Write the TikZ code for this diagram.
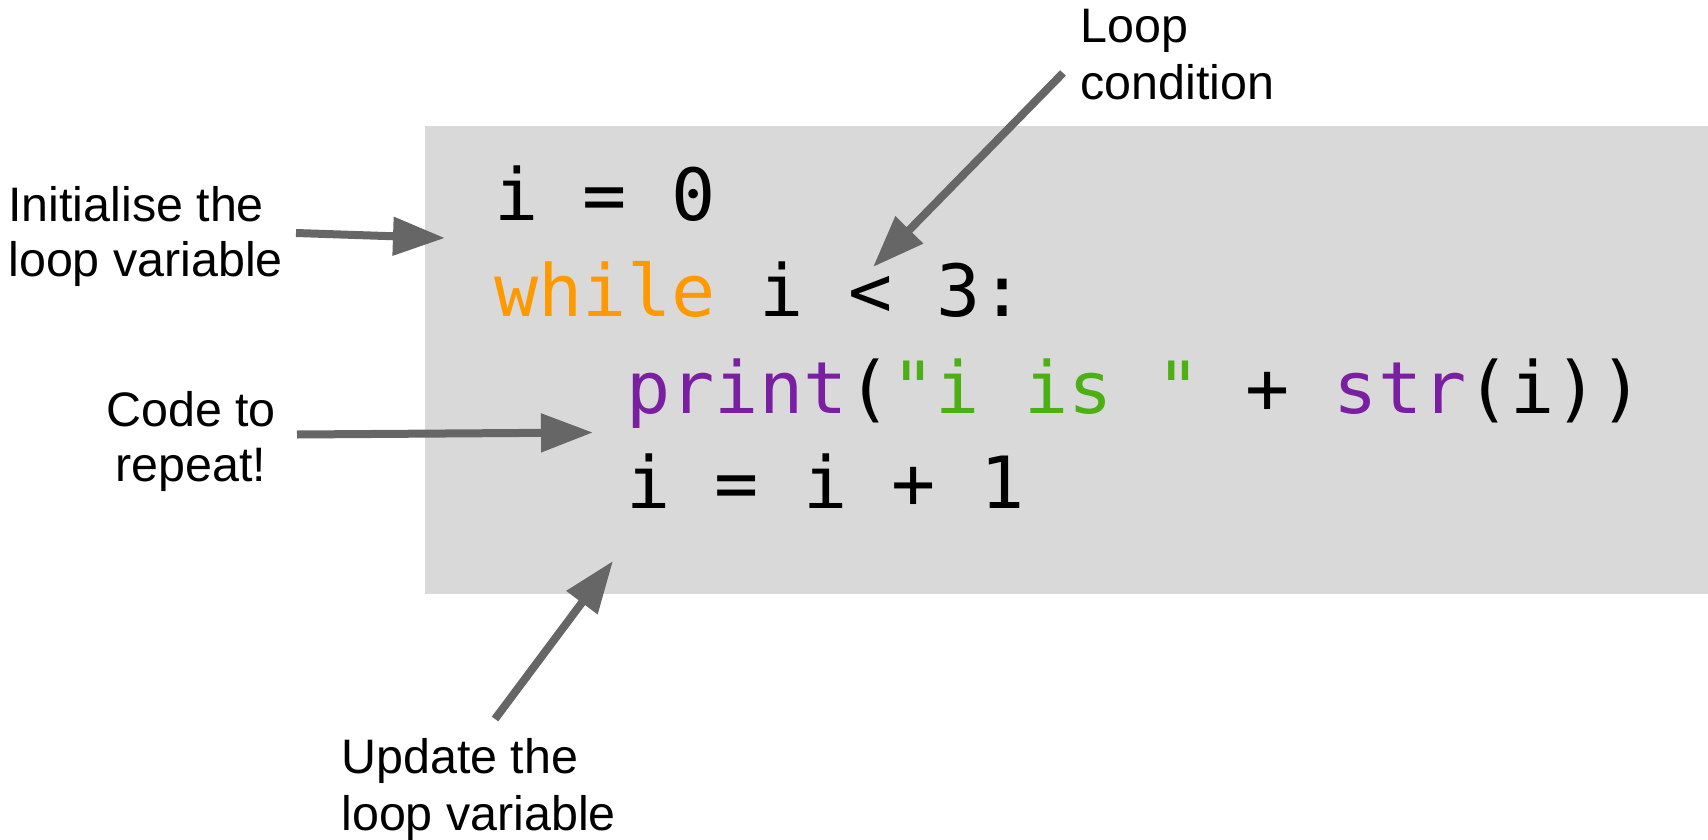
\documentclass[tikz,border=0pt]{standalone}
\usepackage{fontspec}
\setmainfont{Liberation Sans}
\newfontfamily\codefont[FakeStretch=1.02]{DejaVu Sans Mono}
\usetikzlibrary{arrows.meta}
\definecolor{boxgray}{HTML}{D9D9D9}
\definecolor{arrowgray}{HTML}{666666}
\definecolor{kworange}{HTML}{FF9900}
\definecolor{fnpurple}{HTML}{7B1FA2}
\definecolor{strgreen}{HTML}{4CAF14}
\tikzset{
  codeline/.style={anchor=base west, inner sep=0pt, font=\codefont\fontsize{36pt}{48pt}\selectfont\frenchspacing},
  notetext/.style={inner sep=0pt, font=\fontsize{24.2pt}{#1}\selectfont},
  notetext/.default=28pt,
  arrowline/.style={draw=arrowgray, line width=4pt, -{Triangle[length=26pt,width=18.5pt]}}
}
\begin{document}
\begin{tikzpicture}[x=0.5pt,y=-0.5pt]
\useasboundingbox (0,0) rectangle (1708,840);
\fill[boxgray] (425,126) rectangle (1708,594);

% code
\node[codeline] (l1) at (494,220.7) {i = 0};
\node[codeline] (l2) at (494,316.7) {\textcolor{kworange}{while} i < 3:};
\node[codeline] (l3) at (626,413.3) {\textcolor{fnpurple}{print}(\textcolor{strgreen}{"i is "} + \textcolor{fnpurple}{str}(i))};
\node[codeline] (l4) at (626,508.3) {i = i + 1};

% labels
\node[notetext=27.5pt, anchor=base west] (init) at (8,221.7)
  {\begin{tabular}[t]{@{}l@{}}Initialise the\\loop variable\end{tabular}};
\node[notetext=27.5pt, anchor=base] (repeat) at (191,426.7)
  {\begin{tabular}[t]{@{}c@{}}Code to\\repeat!\end{tabular}};
\node[notetext=28.5pt, anchor=base west] (cond) at (1080,42.7)
  {\begin{tabular}[t]{@{}l@{}}Loop\\condition\end{tabular}};
\node[notetext=28.5pt, anchor=base west] (update) at (341,773)
  {\begin{tabular}[t]{@{}l@{}}Update the\\loop variable\end{tabular}};

% arrows
\coordinate (initS) at (296,233);
\coordinate (initE) at (445,238);
\coordinate (codeS) at (297,434.5);
\coordinate (codeE) at (593,432.5);
\coordinate (condS) at (1063,73);
\coordinate (condE) at (873,267);
\coordinate (updS) at (495,719);
\coordinate (updE) at (613,561);
\draw[arrowline] (initS) -- (initE);
\draw[arrowline] (codeS) -- (codeE);
\draw[arrowline] (condS) -- (condE);
\draw[arrowline] (updS) -- (updE);
\end{tikzpicture}
\end{document}
